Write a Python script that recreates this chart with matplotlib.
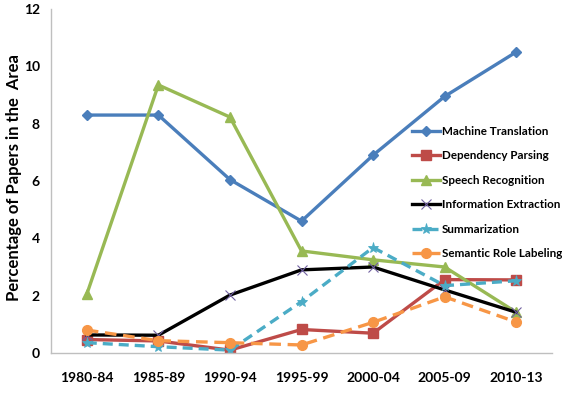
import matplotlib
matplotlib.use("Agg")
import matplotlib.pyplot as plt

categories = ["1980-84", "1985-89", "1990-94", "1995-99", "2000-04", "2005-09", "2010-13"]
machine_translation = [8.3, 8.3, 6.05, 4.6, 6.9, 8.95, 10.5]
dependency_parsing = [0.47, 0.42, 0.1, 0.82, 0.69, 2.56, 2.55]
speech_recognition = [2.05, 9.35, 8.23, 3.56, 3.25, 3.0, 1.42]
information_extraction = [0.63, 0.62, 2.02, 2.9, 3.0, 2.2, 1.42]
summarization = [0.36, 0.22, 0.1, 1.79, 3.68, 2.35, 2.52]
semantic_role_labeling = [0.8, 0.43, 0.36, 0.28, 1.07, 1.96, 1.08]

plt.rcParams['font.family'] = ['Lato', 'DejaVu Sans']

fig = plt.figure(figsize=(5.62, 3.93), dpi=100)
ax = fig.add_axes([51/562, 1-353/393, (552-51)/562, (353-9)/393])

x = list(range(len(categories)))
lw = 2.4
ax.plot(x, machine_translation, color="#4A7EBB", lw=lw, marker="D", ms=5.5, label="Machine Translation")
ax.plot(x, dependency_parsing, color="#BE4B48", lw=lw, marker="s", ms=6.5, label="Dependency Parsing")
ax.plot(x, speech_recognition, color="#98B954", lw=lw, marker="^", ms=7, label="Speech Recognition")
ax.plot(x, information_extraction, color="black", lw=lw, marker="x", ms=7, mec="#7060A0", mew=0.8, label="Information Extraction")
ax.plot(x, summarization, color="#4BACC6", lw=lw, ls=(0, (3, 1.8)), marker="*", ms=8, mew=0.6, label="Summarization")
ax.plot(x, semantic_role_labeling, color="#F79646", lw=lw, ls=(0, (3.5, 2)), marker="o", ms=7, label="Semantic Role Labeling")

ax.set_xlim(-0.5, 6.5)
ax.set_ylim(0, 12)
ax.set_yticks([0, 2, 4, 6, 8, 10, 12])
ax.set_xticks(x)
ax.set_xticklabels(categories)
for lab in ax.get_xticklabels() + ax.get_yticklabels():
    lab.set_fontweight("bold")
    lab.set_fontsize(10)
ax.tick_params(axis='both', length=0)
ax.tick_params(axis='x', pad=14)
ax.tick_params(axis='y', pad=8)
for s in ["top", "right"]:
    ax.spines[s].set_visible(False)
for s in ["left", "bottom"]:
    ax.spines[s].set_color("#BFBFBF")
    ax.spines[s].set_linewidth(1)

ax.set_ylabel("Percentage of Papers in the  Area", fontsize=12, fontweight="bold")
ax.yaxis.set_label_coords(-0.058, 0.51)

leg = ax.legend(loc="upper left", bbox_to_anchor=((412-51)/501, 1-(126-9)/344), frameon=False,
                fontsize=8.4, handlelength=2.4, labelspacing=1.15, handletextpad=0.13,
                borderaxespad=0, borderpad=0)
for t in leg.get_texts():
    t.set_fontweight("bold")

fig.savefig("out.png", dpi=100)
